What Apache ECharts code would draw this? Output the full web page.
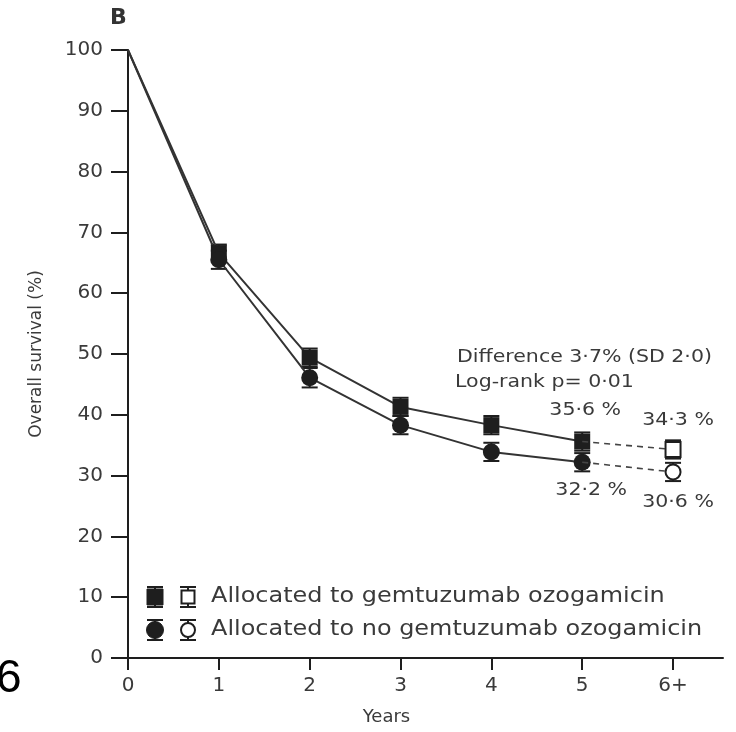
<!DOCTYPE html>
<html>
<head>
<meta charset="utf-8">
<script src="https://cdn.jsdelivr.net/npm/echarts@6/dist/echarts.min.js"></script>
<style>
html,body{margin:0;padding:0;background:#fff;}
#chart{width:736px;height:732px;}
</style>
</head>
<body>
<div id="chart"></div>
<script>
// ---- data ----
var years = [0, 1, 2, 3, 4, 5];
var xTickValues = [0, 1, 2, 3, 4, 5, 6];
var xTickLabels = ['0', '1', '2', '3', '4', '5', '6+'];
var goValues = [100, 66.6, 49.4, 41.3, 38.3, 35.6];
var goErr = [0, 1.4, 1.5, 1.5, 1.5, 1.5];
var noGoValues = [100, 65.5, 46.1, 38.3, 33.9, 32.2];
var noGoErr = [0, 1.5, 1.6, 1.5, 1.5, 1.5];
var finalX = 6;
var goFinal = 34.3;
var goFinalErr = 1.5;
var noGoFinal = 30.6;
var noGoFinalErr = 1.5;
var legendLabels = ['Allocated to gemtuzumab ozogamicin', 'Allocated to no gemtuzumab ozogamicin'];
var annotation = ['Difference 3·7% (SD 2·0)', 'Log-rank p= 0·01'];

var FONT = '"DejaVu Sans", sans-serif';
var TXT = '#3a3a3a';
var INK = '#1e1e1e';
var SX = 1.14;

function pct(v) { return String(v).replace('.', '·') + ' %'; }

function mainData(vals) {
  return years.map(function (x, i) {
    var d = { value: [x, vals[i]] };
    if (x === 0) d.symbol = 'none';
    return d;
  });
}

var errData = [];
years.forEach(function (x, i) {
  if (goErr[i] > 0) errData.push([x, goValues[i], goErr[i]]);
  if (noGoErr[i] > 0) errData.push([x, noGoValues[i], noGoErr[i]]);
});
errData.push([finalX, goFinal, goFinalErr]);
errData.push([finalX, noGoFinal, noGoFinalErr]);

var lastX = years[years.length - 1];
var goLast = goValues[goValues.length - 1];
var noGoLast = noGoValues[noGoValues.length - 1];

var chart = echarts.init(document.getElementById('chart'), null, { renderer: 'canvas' });

var option = {
  animation: false,
  backgroundColor: '#fff',
  grid: { left: 128, right: 13, top: 50, bottom: 74, containLabel: false },
  xAxis: {
    type: 'value', min: 0, max: 6.55,
    name: 'Years', nameLocation: 'middle', nameGap: 50,
    nameTextStyle: { fontFamily: FONT, fontSize: 18, color: TXT, padding: [0, 78, 0, 0] },
    axisLine: { lineStyle: { color: INK, width: 2 } },
    axisTick: { show: true, length: 12, inside: false, customValues: xTickValues, lineStyle: { color: INK, width: 2 } },
    axisLabel: {
      customValues: xTickValues, margin: 18, fontFamily: FONT, fontSize: 20, color: TXT,
      formatter: function (v) { var i = xTickValues.indexOf(v); return i >= 0 ? xTickLabels[i] : ''; }
    },
    splitLine: { show: false }
  },
  yAxis: {
    type: 'value', min: 0, max: 100, interval: 10,
    name: 'Overall survival (%)', nameLocation: 'middle', nameGap: 83, nameRotate: 90,
    nameTextStyle: { fontFamily: FONT, fontSize: 17, color: TXT },
    axisLine: { show: true, lineStyle: { color: INK, width: 2 } },
    axisTick: { show: true, length: 17, inside: false, lineStyle: { color: INK, width: 2 } },
    axisLabel: { margin: 25, fontFamily: FONT, fontSize: 20, color: TXT },
    splitLine: { show: false }
  },
  series: [
    {
      type: 'custom', z: 2,
      data: errData,
      renderItem: function (params, api) {
        var x = api.value(0), y = api.value(1), e = api.value(2);
        var top = api.coord([x, y + e]);
        var bot = api.coord([x, y - e]);
        var hw = 8;
        var st = { stroke: INK, lineWidth: 2 };
        return {
          type: 'group',
          children: [
            { type: 'line', shape: { x1: top[0], y1: top[1], x2: bot[0], y2: bot[1] }, style: st },
            { type: 'line', shape: { x1: top[0] - hw, y1: top[1], x2: top[0] + hw, y2: top[1] }, style: st },
            { type: 'line', shape: { x1: bot[0] - hw, y1: bot[1], x2: bot[0] + hw, y2: bot[1] }, style: st }
          ]
        };
      }
    },
    {
      name: 'go', type: 'line', z: 3,
      data: mainData(goValues),
      symbol: 'rect', symbolSize: 16,
      lineStyle: { color: '#333', width: 2 },
      itemStyle: { color: INK, borderWidth: 0 }
    },
    {
      name: 'nogo', type: 'line', z: 3,
      data: mainData(noGoValues),
      symbol: 'circle', symbolSize: 17,
      lineStyle: { color: '#333', width: 2 },
      itemStyle: { color: INK, borderWidth: 0 }
    },
    {
      name: 'go-final', type: 'line', z: 4,
      data: [
        { value: [lastX, goLast], symbol: 'none' },
        { value: [finalX, goFinal] }
      ],
      symbol: 'rect', symbolSize: 15,
      lineStyle: { color: '#444', width: 1.6, type: [6, 5] },
      itemStyle: { color: '#fff', borderColor: INK, borderWidth: 2 }
    },
    {
      name: 'nogo-final', type: 'line', z: 4,
      data: [
        { value: [lastX, noGoLast], symbol: 'none' },
        { value: [finalX, noGoFinal] }
      ],
      symbol: 'circle', symbolSize: 15,
      lineStyle: { color: '#444', width: 1.6, type: [6, 5] },
      itemStyle: { color: '#fff', borderColor: INK, borderWidth: 2 }
    }
  ]
};

function legendSymbol(cx, cy, shape, filled) {
  var st = { stroke: INK, lineWidth: 2 };
  var children = [
    { type: 'line', shape: { x1: cx, y1: cy - 10, x2: cx, y2: cy + 10 }, style: st },
    { type: 'line', shape: { x1: cx - 8, y1: cy - 10, x2: cx + 8, y2: cy - 10 }, style: st },
    { type: 'line', shape: { x1: cx - 8, y1: cy + 10, x2: cx + 8, y2: cy + 10 }, style: st }
  ];
  var fillStyle = filled ? { fill: INK, stroke: INK, lineWidth: 1 } : { fill: '#fff', stroke: INK, lineWidth: 2 };
  if (shape === 'rect') {
    var s = filled ? 16 : 13;
    children.push({ type: 'rect', shape: { x: cx - s / 2, y: cy - s / 2, width: s, height: s }, style: fillStyle });
  } else {
    children.push({ type: 'circle', shape: { cx: cx, cy: cy, r: filled ? 8.5 : 7 }, style: fillStyle });
  }
  return { type: 'group', children: children, z: 10 };
}

function txt(text, x, y, size, align, extra) {
  var o = {
    type: 'text', x: x, y: y, scaleX: SX, z: 10,
    style: { text: text, x: 0, y: 0, align: align || 'left', verticalAlign: 'middle', font: size + 'px ' + FONT, fill: TXT }
  };
  if (extra) for (var k in extra) o.style[k] = extra[k];
  return o;
}

var baseGraphic = [
  { type: 'text', x: 110, y: 7, style: { text: 'B', font: 'bold 22px ' + FONT, fill: '#333' } },
  { type: 'text', x: -4, y: 656, style: { text: '6', font: '46px "Liberation Sans", Arial, sans-serif', fill: '#000' } },
  txt(annotation[0], 457, 357, 18),
  txt(annotation[1], 455, 382, 18),
  legendSymbol(155, 597, 'rect', true),
  legendSymbol(188, 597, 'rect', false),
  legendSymbol(155, 630, 'circle', true),
  legendSymbol(188, 630, 'circle', false),
  txt(legendLabels[0], 211, 597, 21),
  txt(legendLabels[1], 211, 630, 21)
];

option.graphic = baseGraphic;
chart.setOption(option);

// value labels positioned through the chart's own scale
function px(x, y) { return chart.convertToPixel({ gridIndex: 0 }, [x, y]); }
var p1 = px(lastX, goLast), p2 = px(finalX, goFinal), p3 = px(lastX, noGoLast), p4 = px(finalX, noGoFinal);
var labelGraphic = [
  txt(pct(goLast), p1[0] + 3, p1[1] - 31, 18, 'center'),
  txt(pct(goFinal), p2[0] + 5, p2[1] - 29, 18, 'center'),
  txt(pct(noGoLast), p3[0] + 9, p3[1] + 28, 18, 'center'),
  txt(pct(noGoFinal), p4[0] + 5, p4[1] + 30, 18, 'center')
];
chart.setOption({ graphic: baseGraphic.concat(labelGraphic) });
</script>
</body>
</html>
